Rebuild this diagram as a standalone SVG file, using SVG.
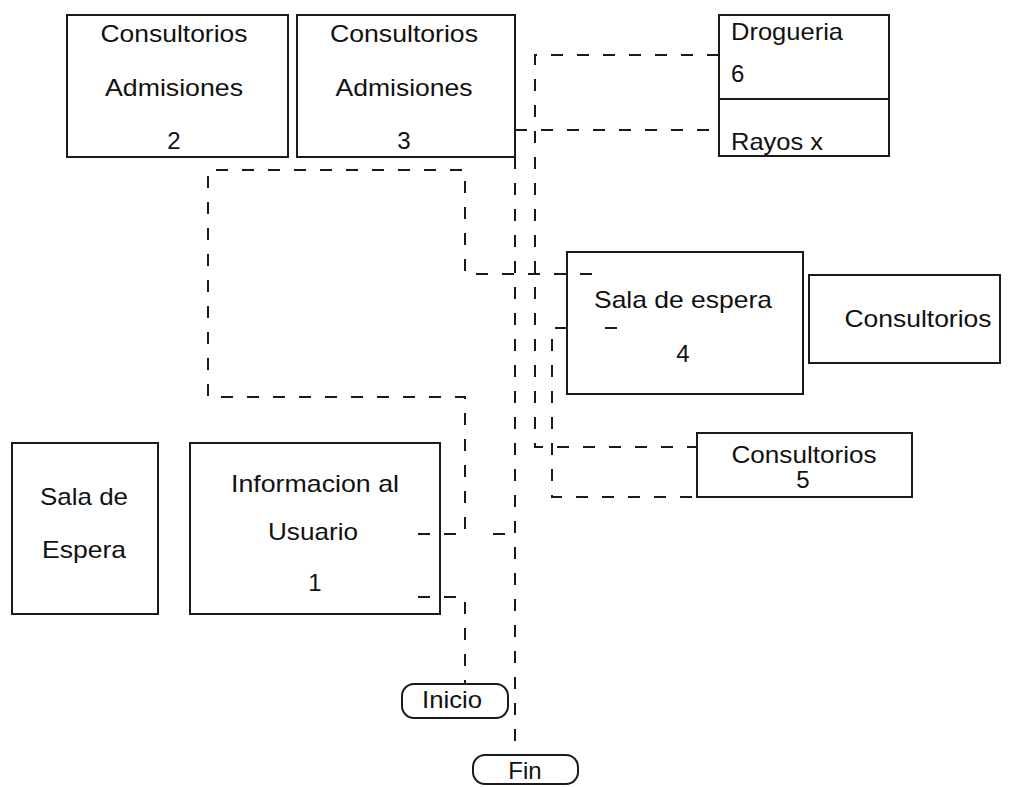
<svg xmlns="http://www.w3.org/2000/svg" width="1015" height="787" viewBox="0 0 1015 787">
<style>
.box{fill:none;stroke:#1a1a1a;stroke-width:2}
.term{fill:#fff;stroke:#1a1a1a;stroke-width:2}
.t{font-family:"Liberation Sans",Arial,sans-serif;font-size:24px;fill:#111;text-anchor:middle}
.tl{font-family:"Liberation Sans",Arial,sans-serif;font-size:24px;fill:#111;text-anchor:start}
.c{fill:none;stroke:#1a1a1a;stroke-width:2;stroke-dasharray:12 14}
</style>
<rect width="1015" height="787" fill="#fff"/>
<g id="n-admisiones2">
<rect class="box" x="67" y="15" width="221" height="142"/>
<text class="t" x="174" y="42" textLength="147" lengthAdjust="spacingAndGlyphs">Consultorios</text>
<text class="t" x="174" y="96" textLength="138" lengthAdjust="spacingAndGlyphs">Admisiones</text>
<text class="t" x="174" y="149">2</text>
</g>
<g id="n-admisiones3">
<rect class="box" x="297" y="15" width="218" height="142"/>
<text class="t" x="404" y="42" textLength="148" lengthAdjust="spacingAndGlyphs">Consultorios</text>
<text class="t" x="404" y="96" textLength="137" lengthAdjust="spacingAndGlyphs">Admisiones</text>
<text class="t" x="404" y="149">3</text>
</g>
<g id="n-drogueria">
<rect class="box" x="719" y="15" width="170" height="141"/>
<line x1="719" y1="99" x2="889" y2="99" stroke="#1a1a1a" stroke-width="2"/>
<text class="tl" x="731" y="40" textLength="112" lengthAdjust="spacingAndGlyphs">Drogueria</text>
<text class="tl" x="731" y="82">6</text>
<text class="tl" x="731" y="150" textLength="92" lengthAdjust="spacingAndGlyphs">Rayos x</text>
</g>
<g id="n-sala4">
<rect class="box" x="567" y="252" width="236" height="142"/>
<text class="t" x="683" y="308" textLength="178" lengthAdjust="spacingAndGlyphs">Sala de espera</text>
<text class="t" x="683" y="362">4</text>
</g>
<g id="n-consultorios">
<rect class="box" x="809" y="275" width="191" height="88"/>
<text class="t" x="918" y="327" textLength="147" lengthAdjust="spacingAndGlyphs">Consultorios</text>
</g>
<g id="n-consultorios5">
<rect class="box" x="697" y="433" width="215" height="64"/>
<text class="t" x="804" y="463" textLength="145" lengthAdjust="spacingAndGlyphs">Consultorios</text>
<text class="t" x="803" y="488">5</text>
</g>
<g id="n-salaespera">
<rect class="box" x="12" y="443" width="146" height="171"/>
<text class="t" x="84" y="505" textLength="88" lengthAdjust="spacingAndGlyphs">Sala de</text>
<text class="t" x="84" y="558" textLength="84" lengthAdjust="spacingAndGlyphs">Espera</text>
</g>
<g id="n-informacion">
<rect class="box" x="190" y="443" width="250" height="171"/>
<text class="t" x="315" y="492" textLength="168" lengthAdjust="spacingAndGlyphs">Informacion al</text>
<text class="t" x="313" y="540" textLength="90" lengthAdjust="spacingAndGlyphs">Usuario</text>
<text class="t" x="315" y="591">1</text>
</g>
<g id="n-inicio">
<rect class="term" x="402" y="684" width="106" height="34" rx="12"/>
<text class="t" x="452" y="708" textLength="60" lengthAdjust="spacingAndGlyphs">Inicio</text>
</g>
<g id="n-fin">
<rect class="term" x="473" y="755" width="105" height="29" rx="12"/>
<text class="t" x="525" y="779">Fin</text>
</g>
<g id="connectors">
<path class="c" d="M418 534 H465 V397 H208 V170 H465 V274 H597"/>
<path class="c" d="M493 534 H515"/>
<path class="c" d="M418 597 H465 V684"/>
<path class="c" d="M515 157 V745"/>
<path class="c" d="M515 130 H719"/>
<path class="c" d="M719 55 H535 V447 H697"/>
<path class="c" d="M567 328 H552 V497 H697"/>
<path class="c" d="M605 328 H618"/>
</g>
</svg>
